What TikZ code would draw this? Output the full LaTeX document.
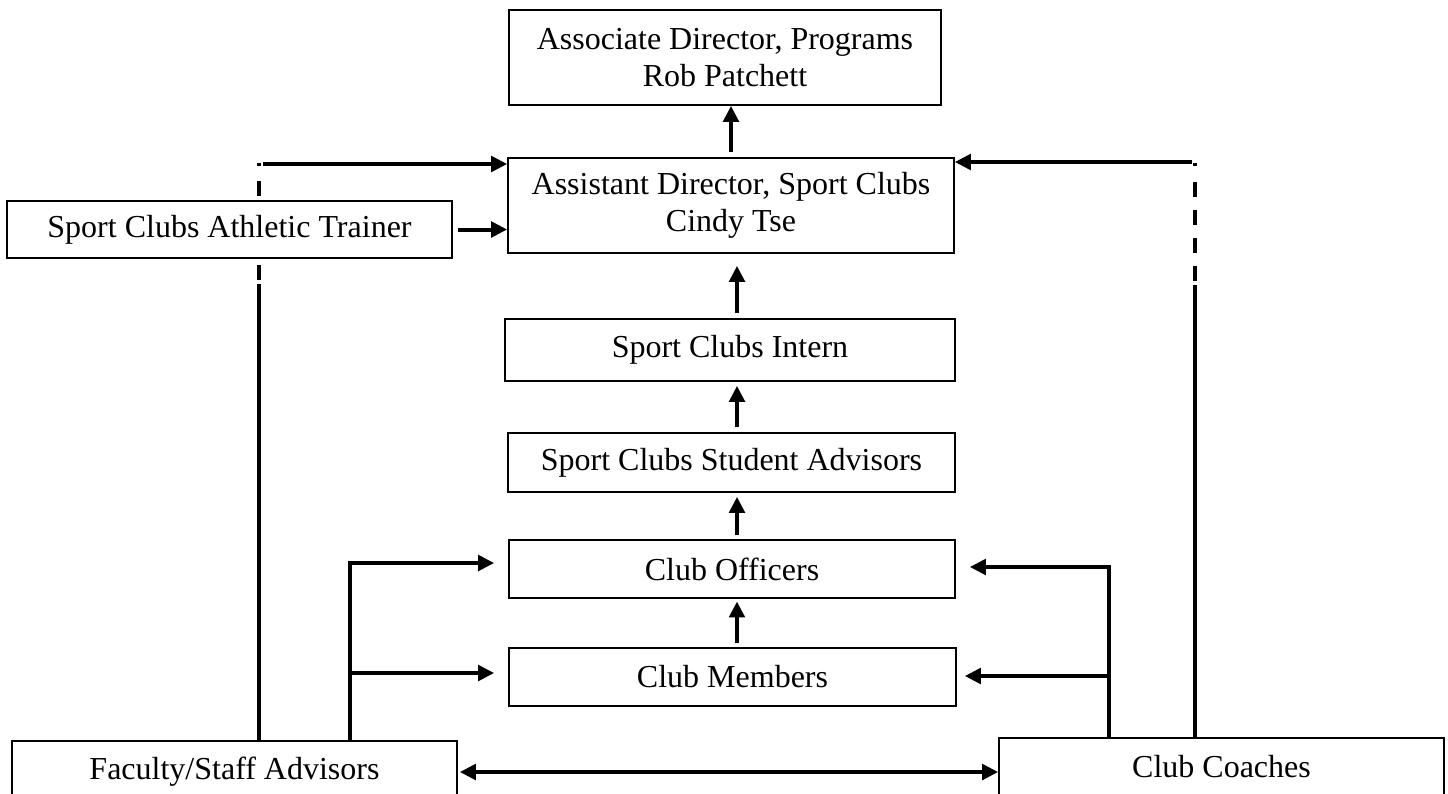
\documentclass[tikz,border=0pt]{standalone}
\usepackage{fontspec}
\setmainfont{Liberation Serif}
\usetikzlibrary{arrows.meta,backgrounds}
\tikzset{
  box/.style={draw, line width=1.2pt, fill=white, align=center, inner sep=0pt,
    font=\fontsize{24}{27.75}\selectfont},
  arr/.style={line width=3pt, line join=miter, -{Triangle[length=12pt,width=11.5pt]}},
  dblarr/.style={line width=3pt, {Triangle[length=12pt,width=11.5pt]}-{Triangle[length=12pt,width=11.5pt]}},
  link/.style={line width=3pt},
  dashlink/.style={line width=3pt, dash pattern=on 11.25pt off 9.75pt},
}
\begin{document}
\begin{tikzpicture}[x=0.75pt,y=-0.75pt]
\useasboundingbox (0,0) rectangle (1448,793);

% boxes
\node[box, minimum width={0.75*432pt}, minimum height={0.75*95pt}] (assoc) at (725,57.5) {Associate Director, Programs\\Rob Patchett};
\node[box, minimum width={0.75*446pt}, minimum height={0.75*95pt}] (assist) at (731,205.5) {Assistant Director, Sport Clubs\\Cindy Tse};
\node[box, minimum width={0.75*445pt}, minimum height={0.75*57pt}] (trainer) at (229.5,229.5) {Sport Clubs Athletic Trainer};
\node[box, minimum width={0.75*450pt}, minimum height={0.75*62pt}] (intern) at (730,350) {Sport Clubs Intern};
\node[box, minimum width={0.75*447pt}, minimum height={0.75*59pt}] (advisors) at (731.5,462.5) {Sport Clubs Student Advisors};
\node[box, minimum width={0.75*446pt}, minimum height={0.75*58pt}] (officers) at (732,569) {Club Officers};
\node[box, minimum width={0.75*447pt}, minimum height={0.75*58pt}] (members) at (732.5,677) {Club Members};
\node[box, minimum width={0.75*445pt}, minimum height={0.75*62pt}] (faculty) at (234.5,772) {Faculty/Staff Advisors};
\node[box, minimum width={0.75*445pt}, minimum height={0.75*58pt}] (coaches) at (1221.5,767) {Club Coaches};

% helper coordinates
\coordinate (ax) at (737,0);
\coordinate (ltop) at (263,164);
\coordinate (ldot) at (259,164.5);
\coordinate (ldash) at (259,280);
\coordinate (ldashend) at (259,180);
\coordinate (lsolid) at (259,284);
\coordinate (rtop) at (1192,162);
\coordinate (rdot) at (1195,164.5);
\coordinate (rdash) at (1195,281);
\coordinate (rdashend) at (1195,180);
\coordinate (rsolid) at (1195,285);
\coordinate (bl1) at (350,563);
\coordinate (bl2) at (350,673);
\coordinate (br1) at (1109,567);
\coordinate (br2) at (1109,676);

% long side lines (behind boxes)
\begin{scope}[on background layer]
  \draw[link] (faculty.north -| lsolid) -- (lsolid);
  \draw[dashlink] (ldash) -- (ldashend);
  \draw[link] ([yshift=1.2pt]ldot) -- ([yshift=-1.2pt]ldot);
  \draw[link] (coaches.north -| rsolid) -- (rsolid);
  \draw[dashlink] (rdash) -- (rdashend);
  \draw[link] ([yshift=1.2pt]rdot) -- ([yshift=-1.2pt]rdot);
\end{scope}
\draw[arr] (ltop) -- (ltop -| assist.west);
\draw[arr] (rtop) -- (rtop -| assist.east);

% vertical chain
\draw[arr, shorten <=3.75pt] (assist.north) -- (assoc.south -| assist.north);
\draw[arr, shorten <=4pt, shorten >=9pt] (intern.north -| ax) -- (assist.south -| ax);
\draw[arr, shorten <=3.75pt, shorten >=3pt] (advisors.north -| ax) -- (intern.south -| ax);
\draw[arr, shorten <=3pt, shorten >=3pt] (officers.north -| ax) -- (advisors.south -| ax);
\draw[arr, shorten <=3pt, shorten >=2pt] (members.north -| ax) -- (officers.south -| ax);

% trainer
\draw[arr, shorten <=3.75pt] (trainer.east) -- (trainer.east -| assist.west);

% brackets
\draw[arr, shorten >=10.5pt] (faculty.north -| bl1) |- (officers.west |- bl1);
\draw[arr, shorten >=10.5pt] (bl2) -- (members.west |- bl2);
\draw[arr, shorten >=10.5pt] (coaches.north -| br1) |- (officers.east |- br1);
\draw[arr, shorten >=6pt] (br2) -- (members.east |- br2);

% bottom double arrow
\draw[dblarr, shorten <=1.5pt] (faculty.east) -- (faculty.east -| coaches.west);
\end{tikzpicture}
\end{document}
